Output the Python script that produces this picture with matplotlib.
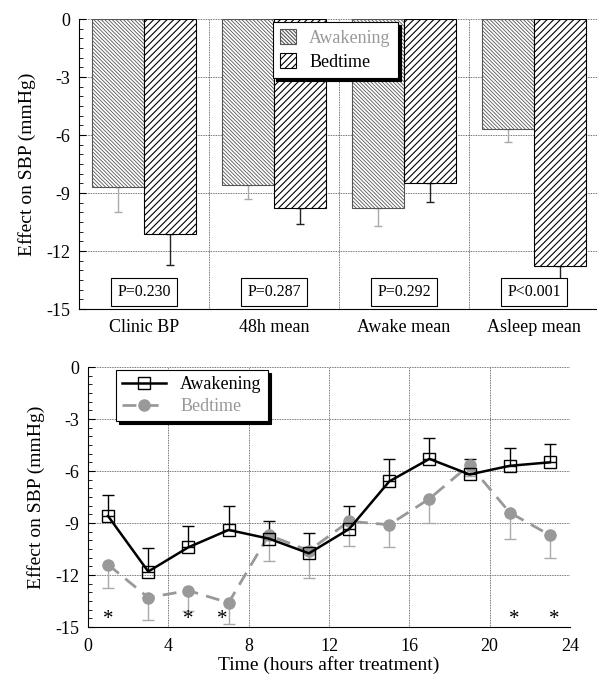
import matplotlib
matplotlib.use("Agg")
import matplotlib.pyplot as plt
import numpy as np
from matplotlib.ticker import MultipleLocator

plt.rcParams['font.family'] = ['Liberation Serif', 'DejaVu Serif']
plt.rcParams['hatch.linewidth'] = 0.8

# ---- top panel data ----
categories = ["Clinic BP", "48h mean", "Awake mean", "Asleep mean"]
awak_bar = [-8.7, -8.6, -9.8, -5.7]
awak_bar_err = [1.3, 0.7, 0.9, 0.65]
bed_bar = [-11.1, -9.8, -8.5, -12.8]
bed_bar_err = [1.6, 0.8, 0.95, 0.7]
p_labels = ["P=0.230", "P=0.287", "P=0.292", "P<0.001"]

# ---- bottom panel data ----
hours = [1, 3, 5, 7, 9, 11, 13, 15, 17, 19, 21, 23]
awak_line = [-8.6, -11.8, -10.4, -9.4, -9.9, -10.75, -9.35, -6.6, -5.3, -6.2, -5.7, -5.5]
awak_line_err = [1.2, 1.35, 1.25, 1.4, 1.0, 1.2, 1.35, 1.3, 1.2, 0.9, 1.05, 1.05]
bed_line = [-11.4, -13.3, -12.9, -13.6, -9.7, -10.6, -8.9, -9.1, -7.6, -5.65, -8.4, -9.7]
bed_line_err = [1.35, 1.3, 1.15, 1.25, 1.5, 1.6, 1.4, 1.3, 1.4, 0.65, 1.5, 1.3]
star_hours = [1, 5, 6.7, 21.2, 23.2]

fig = plt.figure(figsize=(5.97, 6.82), dpi=100)

GRAY = '#999999'

# ================= TOP =================
ax1 = fig.add_axes([79/597, 1-309/682, (597-79)/597, 290/682])
x = np.arange(len(categories))
w = 0.4
with plt.rc_context({'hatch.linewidth': 0.6}):
    b1 = ax1.bar(x - w/2, awak_bar, w, color='white', edgecolor='#555555',
                 hatch='\\' * 9, linewidth=0.8, label='Awakening', zorder=2)
b2 = ax1.bar(x + w/2, bed_bar, w, color='white', edgecolor='black',
             hatch='/' * 5, linewidth=0.8, label='Bedtime', zorder=2)
ax1.errorbar(x - w/2, awak_bar, yerr=[awak_bar_err, [0]*4], fmt='none',
             ecolor='#aaaaaa', elinewidth=1.0, capsize=3, zorder=1)
ax1.errorbar(x + w/2, bed_bar, yerr=[bed_bar_err, [0]*4], fmt='none',
             ecolor='#222222', elinewidth=1.0, capsize=3, zorder=1)
for xi, lab in zip(x, p_labels):
    ax1.text(xi, -14.1, lab, ha='center', va='center', fontsize=11.5,
             bbox=dict(boxstyle='square,pad=0.38', fc='white', ec='black', lw=0.8), zorder=5)
ax1.set_xlim(-0.5, 3.485)
ax1.set_ylim(-15, 0)
ax1.set_yticks([0, -3, -6, -9, -12, -15])
ax1.set_yticklabels(['0', '-3', '-6', '-9', '-12', '-15'])
ax1.yaxis.set_minor_locator(MultipleLocator(0.5))
ax1.set_xticks(x)
ax1.set_xticklabels(categories, fontsize=13)
ax1.tick_params(axis='x', length=0, pad=7)
ax1.tick_params(axis='y', which='major', direction='in', length=5, labelsize=13, pad=6)
ax1.tick_params(axis='y', which='minor', direction='in', length=3)
for yv in [-3, -6, -9, -12, 0]:
    ax1.axhline(yv, color='#444444', ls=(0, (1, 1)), lw=0.6, zorder=0)
for xv in [0.5, 1.5, 2.5]:
    ax1.axvline(xv, color='#444444', ls=(0, (1, 1)), lw=0.6, zorder=0)
for s in ['top', 'right']:
    ax1.spines[s].set_visible(False)
ax1.set_ylabel('Effect on SBP (mmHg)', fontsize=14, labelpad=8)
leg1 = ax1.legend(loc='upper left', bbox_to_anchor=((273-79)/518, 1 - 3/290),
                  borderaxespad=0, fontsize=13, frameon=True, fancybox=False,
                  edgecolor='black', shadow={'color': 'black', 'alpha': 1},
                  handlelength=0.9, handleheight=0.9, borderpad=0.4,
                  labelspacing=0.35, handletextpad=0.7)
leg1.get_frame().set_linewidth(0.8)
leg1.get_texts()[0].set_color('#999999')

# ================= BOTTOM =================
ax2 = fig.add_axes([88/597, 1-627/682, (570-88)/597, 260/682])
ax2.errorbar(hours, awak_line, yerr=[[0]*len(hours), awak_line_err], fmt='none',
             ecolor='black', elinewidth=1.0, capsize=4, zorder=2)
ax2.errorbar(hours, bed_line, yerr=[bed_line_err, [0]*len(hours)], fmt='none',
             ecolor='#aaaaaa', elinewidth=1.0, capsize=4, zorder=2)
ax2.plot(hours, bed_line, color=GRAY, ls=(0, (5, 3)), lw=2, marker='o', ms=8,
         mfc=GRAY, mec=GRAY, label='Bedtime', zorder=3)
ax2.plot(hours, awak_line, color='black', ls='-', lw=1.8, marker='s', ms=8,
         mfc='none', mec='black', mew=1.0, label='Awakening', zorder=4)
for sh in star_hours:
    ax2.text(sh, -14.55, '*', ha='center', va='center', fontsize=15)
ax2.set_xlim(0, 24)
ax2.set_ylim(-15, 0)
ax2.set_xticks([0, 4, 8, 12, 16, 20, 24])
ax2.set_yticks([0, -3, -6, -9, -12, -15])
ax2.set_yticklabels(['0', '-3', '-6', '-9', '-12', '-15'])
ax2.yaxis.set_minor_locator(MultipleLocator(0.5))
ax2.tick_params(axis='x', length=0, labelsize=13, pad=8)
ax2.tick_params(axis='y', which='major', direction='in', length=5, labelsize=13, pad=6)
ax2.tick_params(axis='y', which='minor', direction='in', length=3)
for yv in [-3, -6, -9, -12, 0]:
    ax2.axhline(yv, color='#444444', ls=(0, (1, 1)), lw=0.6, zorder=0)
for xv in [4, 8, 12, 16, 20, 24]:
    ax2.axvline(xv, color='#444444', ls=(0, (1, 1)), lw=0.6, zorder=0)
for s in ['top', 'right']:
    ax2.spines[s].set_visible(False)
ax2.set_ylabel('Effect on SBP (mmHg)', fontsize=14, labelpad=8)
ax2.set_xlabel('Time (hours after treatment)', fontsize=14, labelpad=1)
handles, labels = ax2.get_legend_handles_labels()
leg2 = ax2.legend(handles[::-1], labels[::-1], loc='upper left',
                  bbox_to_anchor=((116-88)/482, 1 - 3/260), borderaxespad=0,
                  fontsize=13, frameon=True, fancybox=False, edgecolor='black',
                  shadow={'color': 'black', 'alpha': 1}, handlelength=2.4,
                  borderpad=0.35, labelspacing=0.25, handletextpad=0.8)
leg2.get_frame().set_linewidth(0.8)
leg2.get_texts()[1].set_color(GRAY)

fig.savefig('out.png', dpi=100)
